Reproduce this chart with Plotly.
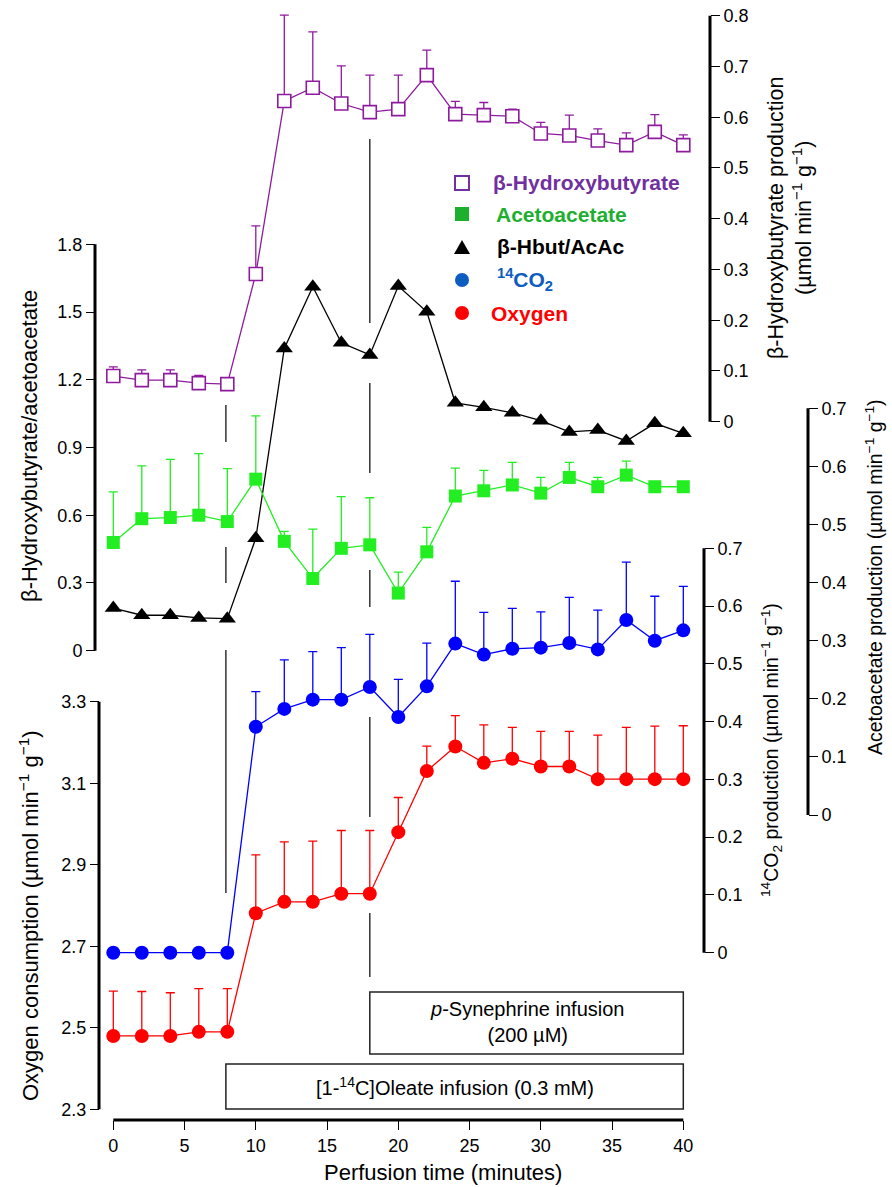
import plotly.graph_objects as go

W, H = 892, 1187

# ---------------- data ----------------
time = [0, 2, 4, 6, 8, 10, 12, 14, 16, 18, 20, 22, 24, 26, 28, 30, 32, 34, 36, 38, 40]

bhb = [0.090, 0.082, 0.082, 0.076, 0.074, 0.291, 0.632, 0.658, 0.627, 0.610, 0.616, 0.683,
       0.606, 0.604, 0.602, 0.568, 0.564, 0.554, 0.545, 0.571, 0.545]
bhb_err = [0.018, 0.020, 0.020, 0.015, 0.012, 0.095, 0.169, 0.110, 0.074, 0.073, 0.067, 0.049,
           0.025, 0.025, 0.014, 0.022, 0.040, 0.023, 0.024, 0.034, 0.020]

acac = [0.469, 0.510, 0.512, 0.516, 0.505, 0.578, 0.471, 0.407, 0.459, 0.465, 0.382, 0.453,
        0.549, 0.558, 0.568, 0.554, 0.581, 0.565, 0.585, 0.565, 0.565]
acac_err = [0.087, 0.091, 0.100, 0.106, 0.091, 0.109, 0.017, 0.085, 0.089, 0.081, 0.036, 0.042,
            0.048, 0.035, 0.039, 0.027, 0.026, 0.016, 0.024, 0.0, 0.0]

ratio = [0.189, 0.157, 0.157, 0.145, 0.142, 0.498, 1.339, 1.612, 1.364, 1.310, 1.615, 1.501,
         1.098, 1.078, 1.054, 1.019, 0.969, 0.977, 0.929, 1.007, 0.963]

co2 = [0.0, 0.0, 0.0, 0.0, 0.0, 0.391, 0.422, 0.438, 0.438, 0.460, 0.408, 0.461,
       0.535, 0.516, 0.526, 0.528, 0.536, 0.525, 0.576, 0.540, 0.558]
co2_err = [0.0, 0.0, 0.0, 0.0, 0.0, 0.061, 0.085, 0.083, 0.090, 0.091, 0.065, 0.075,
           0.108, 0.073, 0.070, 0.062, 0.079, 0.068, 0.100, 0.077, 0.076]

oxygen = [2.480, 2.480, 2.480, 2.490, 2.490, 2.781, 2.809, 2.809, 2.829, 2.829, 2.980, 3.130,
          3.190, 3.150, 3.160, 3.141, 3.141, 3.110, 3.110, 3.110, 3.110]
oxygen_err = [0.110, 0.109, 0.106, 0.106, 0.106, 0.143, 0.147, 0.149, 0.155, 0.155, 0.085, 0.061,
              0.076, 0.093, 0.077, 0.086, 0.086, 0.108, 0.127, 0.130, 0.131]

x_ticks = [0, 5, 10, 15, 20, 25, 30, 35, 40]
ratio_ticks = [0, 0.3, 0.6, 0.9, 1.2, 1.5, 1.8]
bhb_ticks = [0, 0.1, 0.2, 0.3, 0.4, 0.5, 0.6, 0.7, 0.8]
acac_ticks = [0, 0.1, 0.2, 0.3, 0.4, 0.5, 0.6, 0.7]
co2_ticks = [0, 0.1, 0.2, 0.3, 0.4, 0.5, 0.6, 0.7]
oxygen_ticks = [2.3, 2.5, 2.7, 2.9, 3.1, 3.3]

events = [7.9, 18.0]           # infusion start times (minutes)
infusion_end = 40

legend_items = ["β-Hydroxybutyrate", "Acetoacetate", "β-Hbut/AcAc",
                "<sup>14</sup>CO<sub>2</sub>", "Oxygen"]

# ---------------- geometry helpers ----------------
def fx(p):
    return p / W

def fy(p):
    return 1 - p / H

def rng(v_top, p_top, v_bot, p_bot):
    s = (v_top - v_bot) / (p_bot - p_top)
    return [v_bot - (H - p_bot) * s, v_bot + p_bot * s]

X0_PX, X_PER_MIN = 113.3, 14.25
x_range = [(0 - X0_PX) / X_PER_MIN, (W - X0_PX) / X_PER_MIN]

FONT = "Liberation Sans, Arial, Helvetica, sans-serif"
TICKF = dict(family=FONT, size=18, color="black")

PURPLE = "#8E1A9E"
GREEN = "#22EE22"
BLUE = "#0000FF"
RED = "#FF0000"

fig = go.Figure()

def err(arr, color):
    return dict(type="data", symmetric=False, array=arr, arrayminus=[0] * len(arr),
                color=color, thickness=1.3, width=4.5, visible=True)

fig.add_trace(go.Scatter(x=time, y=bhb, yaxis="y2", mode="lines+markers",
                         line=dict(color=PURPLE, width=1.3),
                         marker=dict(symbol="square", size=13, color="white",
                                     line=dict(color=PURPLE, width=1.6)),
                         error_y=err(bhb_err, PURPLE), cliponaxis=False))
fig.add_trace(go.Scatter(x=time, y=acac, yaxis="y3", mode="lines+markers",
                         line=dict(color=GREEN, width=1.3),
                         marker=dict(symbol="square", size=13, color=GREEN),
                         error_y=err(acac_err, GREEN), cliponaxis=False))
fig.add_trace(go.Scatter(x=time, y=ratio, yaxis="y", mode="lines+markers",
                         line=dict(color="black", width=1.3),
                         marker=dict(symbol="triangle-up", size=15, color="black"),
                         cliponaxis=False))
fig.add_trace(go.Scatter(x=time, y=co2, yaxis="y4", mode="lines+markers",
                         line=dict(color=BLUE, width=1.3),
                         marker=dict(symbol="circle", size=14, color=BLUE),
                         error_y=err(co2_err, BLUE), cliponaxis=False))
fig.add_trace(go.Scatter(x=time, y=oxygen, yaxis="y5", mode="lines+markers",
                         line=dict(color=RED, width=1.3),
                         marker=dict(symbol="circle", size=14, color=RED),
                         error_y=err(oxygen_err, RED), cliponaxis=False))

def yax(ticks, r, pos_px, side, overlay=True):
    d = dict(range=r, domain=[0, 1], anchor="free", position=fx(pos_px), side=side,
             tickvals=ticks, ticktext=[f"{t:g}" for t in ticks],
             ticks="outside", ticklen=9, tickwidth=1.3, tickcolor="black",
             tickfont=TICKF, showgrid=False, zeroline=False, showline=False)
    if overlay:
        d["overlaying"] = "y"
    return d

AX = {
    "ratio": (ratio_ticks, rng(1.8, 244.3, 0, 650.7), 95, "left"),
    "bhb": (bhb_ticks, rng(0.8, 15.7, 0, 421.7), 710, "right"),
    "acac": (acac_ticks, rng(0.7, 408.3, 0, 815.0), 808, "right"),
    "co2": (co2_ticks, rng(0.7, 548.3, 0, 952.7), 704, "right"),
    "oxygen": (oxygen_ticks, rng(3.3, 701.7, 2.3, 1109.3), 99, "left"),
}

fig.update_layout(
    width=W, height=H, margin=dict(l=0, r=0, t=0, b=0),
    paper_bgcolor="white", plot_bgcolor="white", showlegend=False,
    xaxis=dict(range=x_range, domain=[0, 1], anchor="free", position=fy(1120),
               tickvals=x_ticks, ticks="outside", ticklen=9, tickwidth=1.3,
               tickcolor="black", tickfont=TICKF, showgrid=False, zeroline=False,
               showline=False),
    yaxis=yax(*AX["ratio"], overlay=False),
    yaxis2=yax(*AX["bhb"]),
    yaxis3=yax(*AX["acac"]),
    yaxis4=yax(*AX["co2"]),
    yaxis5=yax(*AX["oxygen"]),
)

shapes = []
# axis lines
for key, yref in [("ratio", "y"), ("bhb", "y2"), ("acac", "y3"), ("co2", "y4"), ("oxygen", "y5")]:
    ticks, _, pos, _ = AX[key]
    shapes.append(dict(type="line", xref="paper", yref=yref, x0=fx(pos), x1=fx(pos),
                       y0=ticks[0], y1=ticks[-1], line=dict(color="black", width=3)))
shapes.append(dict(type="line", xref="x", yref="paper", x0=x_ticks[0], x1=x_ticks[-1],
                   y0=fy(1120), y1=fy(1120), line=dict(color="black", width=3)))

# broken vertical event lines
segments = {
    events[0]: [(405, 442), (547, 583), (650, 893)],
    events[1]: [(139, 323), (383, 473), (570, 607), (717, 817), (913, 977)],
}
for t, segs in segments.items():
    for a, b in segs:
        shapes.append(dict(type="line", xref="x", yref="paper", x0=t, x1=t,
                           y0=fy(a), y1=fy(b), line=dict(color="#333333", width=1.5)))

# infusion boxes
shapes.append(dict(type="rect", xref="x", yref="paper", x0=events[0], x1=infusion_end,
                   y0=fy(1109), y1=fy(1064), line=dict(color="#222222", width=1.5),
                   fillcolor="white"))
shapes.append(dict(type="rect", xref="x", yref="paper", x0=events[1], x1=infusion_end,
                   y0=fy(1054), y1=fy(992), line=dict(color="#222222", width=1.5),
                   fillcolor="white"))

# legend glyphs
LEG_X = 462
leg_y = [183, 214, 247, 280, 313]
leg_col = ["#7030A0", "#1DB02E", "black", "#0D5CC0", "#FF0000"]
r = 7
shapes.append(dict(type="rect", xref="paper", yref="paper", x0=fx(LEG_X - r), x1=fx(LEG_X + r),
                   y0=fy(leg_y[0] + r), y1=fy(leg_y[0] - r),
                   line=dict(color=leg_col[0], width=2), fillcolor="white"))
shapes.append(dict(type="rect", xref="paper", yref="paper", x0=fx(LEG_X - r), x1=fx(LEG_X + r),
                   y0=fy(leg_y[1] + r), y1=fy(leg_y[1] - r),
                   line=dict(color=leg_col[1], width=0), fillcolor=leg_col[1]))
ty = leg_y[2]
shapes.append(dict(type="path", xref="paper", yref="paper",
                   path=f"M {fx(LEG_X-8)} {fy(ty+7)} L {fx(LEG_X+8)} {fy(ty+7)} L {fx(LEG_X)} {fy(ty-7)} Z",
                   line=dict(color="black", width=0), fillcolor="black"))
for i in (3, 4):
    shapes.append(dict(type="circle", xref="paper", yref="paper",
                       x0=fx(LEG_X - r), x1=fx(LEG_X + r), y0=fy(leg_y[i] + r), y1=fy(leg_y[i] - r),
                       line=dict(color=leg_col[i], width=0), fillcolor=leg_col[i]))

fig.update_layout(shapes=shapes)

ann = []
leg_tx = [491, 494, 495, 495, 489]
for i, txt in enumerate(legend_items):
    ann.append(dict(xref="paper", yref="paper", x=fx(leg_tx[i]), y=fy(leg_y[i]),
                    xanchor="left", yanchor="middle", showarrow=False,
                    text=f"<b>{txt}</b>", font=dict(family=FONT, size=21, color=leg_col[i])))

UNIT = "(µmol min<sup>−1</sup> g<sup>−1</sup>)"
titles = [
    ("β-Hydroxybutyrate/acetoacetate", 29, 446, 22),
    ("Oxygen consumption " + UNIT, 29, 916, 22),
    ("β-Hydroxybutyrate production<br>" + UNIT, 790, 218, 21.5),
    ("<sup>14</sup>CO<sub>2</sub> production " + UNIT, 771, 750, 19.5),
    ("Acetoacetate production " + UNIT, 874, 577, 19.5),
]
for txt, xp, yp, fs in titles:
    ann.append(dict(xref="paper", yref="paper", x=fx(xp), y=fy(yp), xanchor="center",
                    yanchor="middle", textangle=-90, showarrow=False, text=txt,
                    font=dict(family=FONT, size=fs, color="black")))

ann.append(dict(xref="paper", yref="paper", x=fx(443), y=fy(1172), xanchor="center",
                yanchor="middle", showarrow=False, text="Perfusion time (minutes)",
                font=dict(family=FONT, size=22, color="black")))

BOXF = dict(family=FONT, size=20, color="black")
ann.append(dict(xref="x", yref="paper", x=(events[0] + infusion_end) / 2, y=fy(1086),
                xanchor="center", yanchor="middle", showarrow=False,
                text="[1-<sup>14</sup>C]Oleate infusion (0.3 mM)", font=BOXF))
ann.append(dict(xref="x", yref="paper", x=(events[1] + infusion_end) / 2, y=fy(1022),
                xanchor="center", yanchor="middle", showarrow=False,
                text="<i>p</i>-Synephrine infusion<br>(200 µM)", font=BOXF))

fig.update_layout(annotations=ann)

fig.write_html("out.html")
